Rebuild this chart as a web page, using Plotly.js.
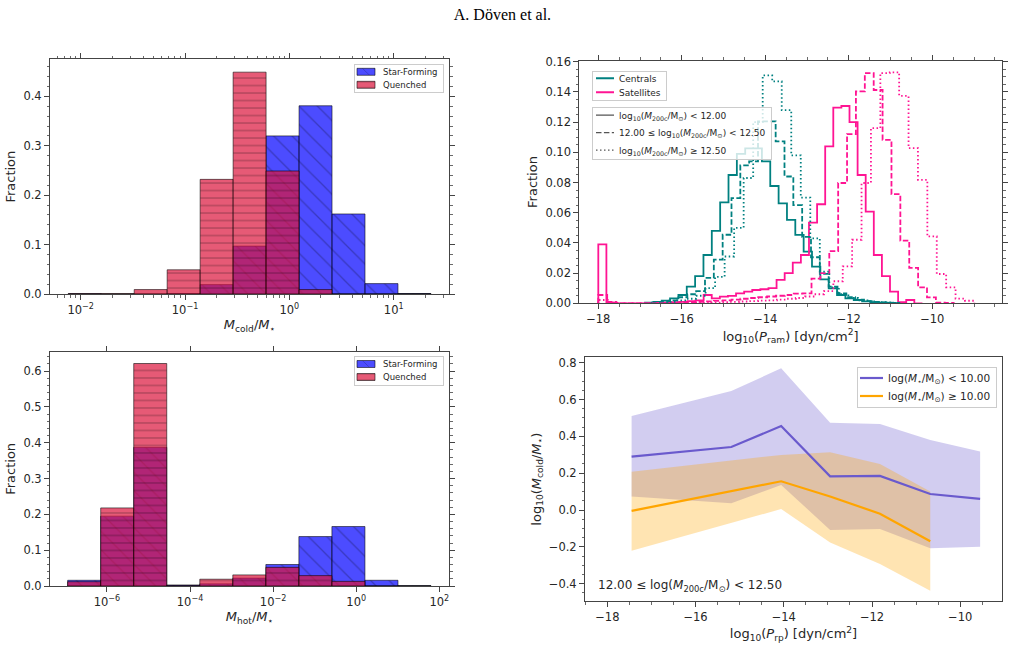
<!DOCTYPE html>
<html>
<head>
<meta charset="utf-8">
<script src="https://cdn.plot.ly/plotly-3.0.1.min.js"></script>
<style>
  html, body { margin: 0; padding: 0; background: #fff; }
  #chart { width: 1009px; height: 648px; }
</style>
</head>
<body>
<div id="chart"></div>
<script>
// ---------- Cold gas fraction histogram (log10 bins) ----------
const coldBinStart = -2.119;
const coldBinWidth = 0.316;
const coldStarForming = [0.0005, 0, 0, 0.001, 0.019, 0.097, 0.320, 0.381, 0.162, 0.021, 0.001];
const coldQuenched    = [0.0005, 0.0005, 0.009, 0.049, 0.232, 0.449, 0.249, 0.009, 0, 0, 0];
const coldTickVals = [-2, -1, 0, 1];
const coldTickText = ['10<sup>\u22122</sup>', '10<sup>\u22121</sup>', '10<sup>0</sup>', '10<sup>1</sup>'];

// ---------- Hot gas fraction histogram (log10 bins) ----------
const hotBinStart = -6.945;
const hotBinWidth = 0.795;
const hotStarForming = [0.016, 0.195, 0.387, 0.003, 0.006, 0.022, 0.060, 0.138, 0.166, 0.016, 0.001];
const hotQuenched    = [0.012, 0.218, 0.621, 0.001, 0.019, 0.031, 0.052, 0.029, 0.013, 0, 0];
const hotTickVals = [-6, -4, -2, 0, 2];
const hotTickText = ['10<sup>\u22126</sup>', '10<sup>\u22124</sup>', '10<sup>\u22122</sup>', '10<sup>0</sup>', '10<sup>2</sup>'];

// ---------- Ram pressure distributions (step histograms) ----------
const cenLowStart = -16.881, cenLowWidth = 0.2;
const cenLow = [0.0004, 0.001, 0.0018, 0.0033, 0.0055, 0.011, 0.018, 0.032, 0.048, 0.0668, 0.085, 0.099,
                0.1026, 0.1026, 0.094, 0.0777, 0.0662, 0.0552, 0.0453, 0.0342, 0.0243, 0.0159, 0.0099,
                0.0055, 0.0033, 0.0022, 0.0013, 0.0007, 0.0004, 0.0002, 0.0001];
const cenMidStart = -16.714, cenMidWidth = 0.2116;
const cenMid = [0.0005, 0.001, 0.002, 0.004, 0.006, 0.008, 0.0168, 0.0289, 0.0454, 0.0697, 0.0913, 0.094,
                0.1205, 0.1205, 0.1072, 0.084, 0.065, 0.044, 0.0305, 0.0195, 0.011, 0.0065, 0.004,
                0.0025, 0.0015, 0.001, 0.0006, 0.0003];
const cenHighStart = -16.342, cenHighWidth = 0.228;
const cenHigh = [0.001, 0.002, 0.003, 0.005, 0.01, 0.0175, 0.031, 0.05, 0.083, 0.12, 0.151, 0.147, 0.128,
                 0.098, 0.07, 0.043, 0.021, 0.0105, 0.006, 0.0035, 0.002, 0.0012, 0.0008, 0.0005];
const satLowStart = -18.0, satLowWidth = 0.1941;
const satLow = [0.039, 0.0005, 0, 0, 0, 0, 0, 0.0003, 0.0005, 0.0008, 0.001, 0.0015, 0.002, 0.0055, 0.0033,
                0.0044, 0.0049, 0.0066, 0.0077, 0.0088, 0.0093, 0.010, 0.0155, 0.020, 0.027, 0.032, 0.0534,
                0.0656, 0.104, 0.1296, 0.1307, 0.120, 0.085, 0.0607, 0.032, 0.018, 0.0077, 0.0008, 0.0022, 0];
const satMidStart = -18.0, satMidWidth = 0.2128;
const satMid = [0.0055, 0.001, 0, 0, 0, 0, 0, 0, 0.0003, 0.0005, 0.0008, 0.001, 0.0013, 0.0016, 0.002, 0.0025,
                0.003, 0.0035, 0.004, 0.0045, 0.005, 0.0055, 0.0064, 0.0066, 0.0163, 0.020, 0.0345, 0.0797,
                0.1121, 0.1404, 0.1525, 0.1413, 0.1083, 0.0723, 0.0415, 0.0234, 0.0106, 0.0039, 0.0005, 0.0003];
const satHighStart = -18.0, satHighWidth = 0.2252;
const satHigh = [0.0022, 0.0005, 0, 0, 0, 0, 0, 0, 0, 0, 0.0002, 0.0003, 0.0005, 0.0008, 0.001, 0.0012, 0.0015,
                 0.0018, 0.002, 0.0025, 0.003, 0.0035, 0.0045, 0.006, 0.008, 0.0146, 0.0245, 0.0421, 0.0797,
                 0.116, 0.1525, 0.153, 0.1374, 0.1028, 0.0818, 0.0443, 0.0194, 0.0106, 0.0031, 0.0017];

// ---------- Cold gas vs ram pressure (median and scatter) ----------
const prpLow = [-17.45, -15.19, -14.06, -12.95, -11.82, -10.68, -9.55];
const coldLowMed = [0.290, 0.342, 0.456, 0.183, 0.185, 0.087, 0.060];
const coldLowUp  = [0.510, 0.646, 0.769, 0.474, 0.467, 0.380, 0.317];
const coldLowLo  = [0.073, 0.036, 0.136, -0.108, -0.103, -0.208, -0.199];
const prpHigh = [-17.45, -15.19, -14.06, -12.95, -11.82, -10.68];
const coldHighMed = [-0.005, 0.105, 0.156, 0.073, -0.020, -0.170];
const coldHighUp  = [0.208, 0.268, 0.299, 0.313, 0.250, 0.100];
const coldHighLo  = [-0.221, -0.069, 0.005, -0.177, -0.293, -0.438];

// ---------- styling ----------
const SF_COLOR = 'rgba(0,0,255,0.7)';
const Q_COLOR = 'rgba(220,20,60,0.7)';
const TEAL = '#008080';
const PINK = '#ff1493';
const DASH = '5.5px,2.4px';
const DOT = '1.5px,2.5px';
const W = 1009, H = 648;

function centers(start, width, n) {
  const c = [];
  for (let i = 0; i < n; i++) c.push(start + (i + 0.5) * width);
  return c;
}

function stepOutline(start, width, vals) {
  const xs = [start], ys = [0];
  for (let i = 0; i < vals.length; i++) { xs.push(start + i * width); ys.push(vals[i]); }
  xs.push(start + vals.length * width); ys.push(0);
  return { x: xs, y: ys };
}

function barTrace(name, start, width, vals, color, shape, size, solidity, xa, ya, legend) {
  return {
    type: 'bar', name: name, x: centers(start, width, vals.length), y: vals, width: width,
    xaxis: xa, yaxis: ya, legend: legend,
    marker: {
      color: color,
      line: { color: 'rgba(0,0,0,0.55)', width: 1 },
      pattern: { shape: shape, fillmode: 'overlay', fgcolor: 'rgba(0,0,0,0.5)', size: size, solidity: solidity }
    },
    hoverinfo: 'skip'
  };
}

function stepTrace(start, width, vals, color, dash) {
  const s = stepOutline(start, width, vals);
  return {
    type: 'scatter', mode: 'lines', x: s.x, y: s.y, xaxis: 'x2', yaxis: 'y2',
    line: { color: color, width: 1.8, shape: 'hv', dash: dash },
    showlegend: false, hoverinfo: 'skip'
  };
}

function legendProxy(name, color, width, dash, legend) {
  return {
    type: 'scatter', mode: 'lines', x: [null], y: [null], xaxis: 'x2', yaxis: 'y2',
    name: name, legend: legend, showlegend: true,
    line: { color: color, width: width, dash: dash }
  };
}

function logMinorTicks(nLo, nHi) {
  const t = [];
  for (let n = nLo; n <= nHi; n++) for (let k = 2; k <= 9; k++) t.push(n + Math.log10(k));
  return t;
}

const M200 = 'log<sub>10</sub>(<i>M</i><sub>200c</sub>/M<sub>\u2299</sub>)';

const traces = [
  // cold gas histograms
  barTrace('Star-Forming', coldBinStart, coldBinWidth, coldStarForming, SF_COLOR, '\\', 13, 0.1, 'x', 'y', 'legend'),
  barTrace('Quenched', coldBinStart, coldBinWidth, coldQuenched, Q_COLOR, '-', 7.5, 0.17, 'x', 'y', 'legend'),
  // hot gas histograms
  barTrace('Star-Forming', hotBinStart, hotBinWidth, hotStarForming, SF_COLOR, '\\', 13, 0.1, 'x3', 'y3', 'legend5'),
  barTrace('Quenched', hotBinStart, hotBinWidth, hotQuenched, Q_COLOR, '-', 7.5, 0.17, 'x3', 'y3', 'legend5'),
  // ram pressure step histograms
  stepTrace(cenLowStart, cenLowWidth, cenLow, TEAL, 'solid'),
  stepTrace(satLowStart, satLowWidth, satLow, PINK, 'solid'),
  stepTrace(cenMidStart, cenMidWidth, cenMid, TEAL, DASH),
  stepTrace(satMidStart, satMidWidth, satMid, PINK, DASH),
  stepTrace(cenHighStart, cenHighWidth, cenHigh, TEAL, DOT),
  stepTrace(satHighStart, satHighWidth, satHigh, PINK, DOT),
  legendProxy('Centrals', TEAL, 2, 'solid', 'legend2'),
  legendProxy('Satellites', PINK, 2, 'solid', 'legend2'),
  legendProxy(M200 + ' < 12.00', '#555', 1.3, 'solid', 'legend3'),
  legendProxy('12.00 \u2264 ' + M200 + ' < 12.50', '#555', 1.3, DASH, 'legend3'),
  legendProxy(M200 + ' \u2265 12.50', '#555', 1.3, DOT, 'legend3'),
  // cold gas vs ram pressure: scatter bands
  { type: 'scatter', mode: 'lines', x: prpLow, y: coldLowLo, xaxis: 'x4', yaxis: 'y4', line: { width: 0 }, showlegend: false, hoverinfo: 'skip' },
  { type: 'scatter', mode: 'lines', x: prpLow, y: coldLowUp, xaxis: 'x4', yaxis: 'y4', line: { width: 0 }, fill: 'tonexty', fillcolor: 'rgba(106,90,205,0.3)', showlegend: false, hoverinfo: 'skip' },
  { type: 'scatter', mode: 'lines', x: prpHigh, y: coldHighLo, xaxis: 'x4', yaxis: 'y4', line: { width: 0 }, showlegend: false, hoverinfo: 'skip' },
  { type: 'scatter', mode: 'lines', x: prpHigh, y: coldHighUp, xaxis: 'x4', yaxis: 'y4', line: { width: 0 }, fill: 'tonexty', fillcolor: 'rgba(255,165,0,0.3)', showlegend: false, hoverinfo: 'skip' },
  // medians
  { type: 'scatter', mode: 'lines', x: prpLow, y: coldLowMed, xaxis: 'x4', yaxis: 'y4', line: { color: '#6a5acd', width: 2.2 },
    name: 'log(<i>M</i><sub>\u22c6</sub>/M<sub>\u2299</sub>) < 10.00', legend: 'legend4' },
  { type: 'scatter', mode: 'lines', x: prpHigh, y: coldHighMed, xaxis: 'x4', yaxis: 'y4', line: { color: '#ffa500', width: 2.2 },
    name: 'log(<i>M</i><sub>\u22c6</sub>/M<sub>\u2299</sub>) \u2265 10.00', legend: 'legend4' }
];

const AX = {
  showline: true, linecolor: '#444', linewidth: 1, ticks: 'outside', ticklen: 5, tickwidth: 1, tickcolor: '#444',
  showgrid: false, zeroline: false, tickfont: { size: 11.5, color: '#262626' }, fixedrange: true
};
function ax(extra) { return Object.assign({}, AX, extra); }
function minor(extra) { return Object.assign({ ticks: 'outside', ticklen: 2.5, tickwidth: 0.8, tickcolor: '#444', showgrid: false }, extra); }
function dom(a, b, total) { return [a / total, b / total]; }
function ydom(top, bottom) { return [1 - bottom / H, 1 - top / H]; }

const legendBox = { bgcolor: 'rgba(255,255,255,0.8)', bordercolor: '#cccccc', borderwidth: 1, traceorder: 'normal' };

const layout = {
  width: W, height: H,
  margin: { l: 0, r: 0, t: 0, b: 0 },
  paper_bgcolor: '#fff', plot_bgcolor: '#fff',
  font: { family: 'DejaVu Sans', color: '#262626' },
  barmode: 'overlay',
  title: { text: 'A. D\u00f6ven et al.', x: 0.498, xanchor: 'center', y: 1 - 14 / H, yanchor: 'middle', yref: 'container',
           font: { family: 'Liberation Serif', size: 16, color: '#000' } },

  xaxis: ax({ domain: dom(50, 449, W), range: [-2.294, 1.53], anchor: 'y', mirror: 'allticks',
              tickmode: 'array', tickvals: coldTickVals, ticktext: coldTickText,
              minor: minor({ tickmode: 'array', tickvals: logMinorTicks(-3, 1) }),
              title: { text: '<i>M</i><sub>cold</sub>/<i>M</i><sub>\u22c6</sub>', font: { size: 13 }, standoff: 4 } }),
  yaxis: ax({ domain: ydom(59.3, 294), range: [0, 0.475], anchor: 'x', mirror: 'allticks',
              tick0: 0, dtick: 0.1, tickformat: '.1f', minor: minor({ dtick: 0.02 }),
              title: { text: 'Fraction', font: { size: 13 }, standoff: 4 } }),

  xaxis2: ax({ domain: dom(579.3, 1002, W), range: [-18.455, -8.33], anchor: 'y2', mirror: 'allticks',
               tick0: -18, dtick: 2, minor: minor({ dtick: 0.5 }),
               title: { text: 'log<sub>10</sub>(<i>P</i><sub>ram</sub>) [dyn/cm<sup>2</sup>]', font: { size: 13 }, standoff: 6 } }),
  yaxis2: ax({ domain: ydom(60.7, 303.3), range: [0, 0.1607], anchor: 'x2', mirror: 'allticks',
               tick0: 0, dtick: 0.02, tickformat: '.2f', minor: minor({ dtick: 0.005 }),
               title: { text: 'Fraction', font: { size: 13 }, standoff: 4 } }),

  xaxis3: ax({ domain: dom(50, 449, W), range: [-7.37, 2.233], anchor: 'y3', mirror: 'allticks',
               tickmode: 'array', tickvals: hotTickVals, ticktext: hotTickText,
               title: { text: '<i>M</i><sub>hot</sub>/<i>M</i><sub>\u22c6</sub>', font: { size: 13 }, standoff: 4 } }),
  yaxis3: ax({ domain: ydom(351.7, 586), range: [0, 0.654], anchor: 'x3', mirror: 'allticks',
               tick0: 0, dtick: 0.1, tickformat: '.1f', minor: minor({ dtick: 0.02 }),
               title: { text: 'Fraction', font: { size: 13 }, standoff: 4 } }),

  xaxis4: ax({ domain: dom(585, 1002, W), range: [-18.506, -9.054], anchor: 'y4', mirror: true,
               tick0: -18, dtick: 2, minor: minor({ dtick: 0.5 }),
               title: { text: 'log<sub>10</sub>(<i>P</i><sub>rp</sub>) [dyn/cm<sup>2</sup>]', font: { size: 13 }, standoff: 6 } }),
  yaxis4: ax({ domain: ydom(357.3, 601), range: [-0.494, 0.829], anchor: 'x4', mirror: true,
               tick0: 0, dtick: 0.2, tickformat: '.1f', minor: minor({ dtick: 0.05 }),
               title: { text: 'log<sub>10</sub>(<i>M</i><sub>cold</sub>/<i>M</i><sub>\u22c6</sub>)', font: { size: 13 }, standoff: 4 } }),

  legend: Object.assign({ x: 444 / W, xanchor: 'right', y: 1 - 64.3 / H, yanchor: 'top', font: { size: 8.5 } }, legendBox),
  legend5: Object.assign({ x: 444 / W, xanchor: 'right', y: 1 - 356 / H, yanchor: 'top', font: { size: 8.5 } }, legendBox),
  legend2: Object.assign({ x: 592 / W, xanchor: 'left', y: 1 - 70.7 / H, yanchor: 'top', font: { size: 9 } }, legendBox),
  legend3: Object.assign({ x: 592 / W, xanchor: 'left', y: 1 - 106.7 / H, yanchor: 'top', font: { size: 9 } }, legendBox),
  legend4: Object.assign({ x: 997 / W, xanchor: 'right', y: 1 - 367 / H, yanchor: 'top', font: { size: 10.5 } }, legendBox),

  annotations: [
    { text: '12.00 \u2264 log(<i>M</i><sub>200c</sub>/M<sub>\u2299</sub>) < 12.50', xref: 'paper', yref: 'paper',
      x: 596 / W, y: 1 - 586 / H, xanchor: 'left', yanchor: 'middle', showarrow: false, font: { size: 12, color: '#262626' } }
  ]
};

// ---- legend compaction: tighter rows, shorter keys ----
function parseTranslate(el) {
  const m = /translate\(\s*([-\d.e]+)[,\s]+([-\d.e]+)\s*\)/.exec(el.getAttribute('transform') || '');
  return m ? [parseFloat(m[1]), parseFloat(m[2])] : [0, 0];
}

function tightenRows(g, firstOffset, spacing) {
  const items = Array.from(g.querySelectorAll('g.traces'));
  items.forEach((it, i) => {
    const p = parseTranslate(it);
    it.setAttribute('transform', 'translate(' + p[0] + ',' + (firstOffset + i * spacing) + ')');
  });
  const bg = g.querySelector('rect.bg');
  if (bg) bg.setAttribute('height', 2 * firstOffset + (items.length - 1) * spacing);
  return items;
}

function trimLeft(g, t) {
  const bg = g.querySelector('rect.bg');
  if (!bg) return;
  bg.setAttribute('x', parseFloat(bg.getAttribute('x') || 0) + t);
  bg.setAttribute('width', parseFloat(bg.getAttribute('width')) - t);
}

function shiftTexts(item, dx) {
  item.querySelectorAll('text').forEach(t => {
    const prev = t.getAttribute('data-shift') ? parseFloat(t.getAttribute('data-shift')) : 0;
    t.setAttribute('data-shift', prev + dx);
    t.setAttribute('transform', 'translate(' + (prev + dx) + ',0)');
  });
}

// left-anchored legend: shorten the line key and pull the text left
function compactLineLegendLeft(gd, cls, firstOffset, spacing, keyLen) {
  const g = gd.querySelector('g.' + cls);
  if (!g) return;
  const items = tightenRows(g, firstOffset, spacing);
  const dw = 30 - keyLen + 2;
  items.forEach(it => {
    it.querySelectorAll('path.js-line').forEach(p => p.setAttribute('d', 'M3,0h' + keyLen));
    shiftTexts(it, -dw);
  });
  const bg = g.querySelector('rect.bg');
  if (bg) bg.setAttribute('width', parseFloat(bg.getAttribute('width')) - dw);
}

// right-anchored legend with line keys: shorter key ending where it did, box trimmed on the left
function compactLineLegendRight(gd, cls, firstOffset, spacing, keyLen) {
  const g = gd.querySelector('g.' + cls);
  if (!g) return;
  const items = tightenRows(g, firstOffset, spacing);
  const start = 35 - keyLen;
  items.forEach(it => it.querySelectorAll('path.js-line').forEach(p => p.setAttribute('d', 'M' + start + ',0h' + keyLen)));
  trimLeft(g, start - 2);
}

// right-anchored legend with bar patches: wide flat patch, box trimmed on the left
function compactBarLegendRight(gd, cls, firstOffset, spacing, pw, ph) {
  const g = gd.querySelector('g.' + cls);
  if (!g) return;
  const items = tightenRows(g, firstOffset, spacing);
  const cx = 32 - pw / 2;
  items.forEach(it => {
    it.querySelectorAll('g.legendpoints path').forEach(p => {
      if (p.classList.contains('js-line')) return;
      p.setAttribute('d', 'M' + pw / 2 + ',' + ph / 2 + 'H' + (-pw / 2) + 'V' + (-ph / 2) + 'H' + pw / 2 + 'Z');
      p.setAttribute('transform', 'translate(' + cx + ',0)');
    });
  });
  trimLeft(g, 32 - pw - 2);
}

Plotly.newPlot('chart', traces, layout, { displayModeBar: false, staticPlot: true }).then(gd => {
  compactBarLegendRight(gd, 'legend', 7.5, 13, 18, 7);
  compactBarLegendRight(gd, 'legend5', 8, 13, 18, 7);
  compactLineLegendLeft(gd, 'legend2', 7.5, 14, 18);
  compactLineLegendLeft(gd, 'legend3', 8.5, 17.5, 18);
  compactLineLegendRight(gd, 'legend4', 11, 18, 23);
});
</script>
</body>
</html>
